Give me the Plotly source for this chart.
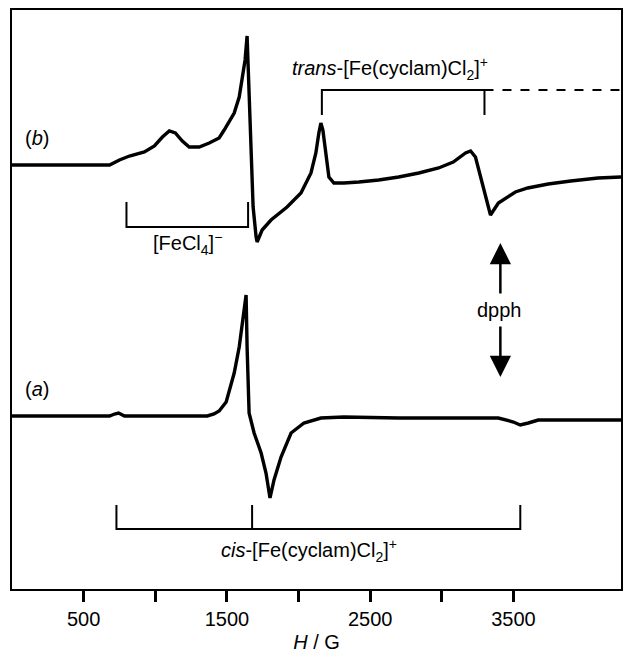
import plotly.graph_objects as go

# Magnetic field H / G and EPR signal intensity (arbitrary units, relative to each baseline)
field_b = [0, 333, 681, 750, 820, 924, 994, 1050, 1098, 1140, 1189, 1237, 1307, 1377, 1446,
           1481, 1551, 1586, 1606, 1627, 1641, 1655, 1669, 1683, 1704, 1711, 1746, 1808, 1920,
           2017, 2087, 2121, 2142, 2156, 2170, 2191, 2212, 2247, 2316, 2421, 2560, 2699, 2840,
           2978, 3080, 3166, 3201, 3235, 3291, 3340, 3395, 3514, 3600, 3743, 3900, 4091, 4251]
signal_b = [0, 0, 0, 5, 9, 13, 19, 28, 34, 32, 24, 18, 18, 22, 27,
            35, 52, 68, 88, 105, 129, 78, 12, -42, -72, -77, -65, -55, -42,
            -28, -8, 12, 32, 42, 35, 12, -12, -18, -18, -17, -15, -12, -8,
            -3, 3, 12, 14, 8, -22, -50, -38, -27, -23, -19, -16, -13, -12]

field_a = [0, 681, 716, 744, 785, 1363, 1410, 1446, 1495, 1551, 1586, 1606, 1634, 1641, 1655,
           1690, 1739, 1773, 1801, 1829, 1878, 1948, 2038, 2156, 2316, 2699, 3395, 3500, 3548,
           3604, 3673, 4251]
signal_a = [0, 0, 2, 3, 0, 0, 2, 5, 14, 43, 69, 93, 121, 69, 3,
            -17, -37, -57, -82, -64, -41, -17, -7, -2, -1, -2, -2, -6, -9,
            -7, -4, -4]

offset_a = 173
offset_b = 424

# assignment brackets (field positions, G)
cis_lines = [729, 1676, 3548]
fecl4_lines = [799, 1648]
trans_lines = [2163, 3298]
dpph_field = 3409

tick_vals = [500, 1000, 1500, 2000, 2500, 3000, 3500]
tick_text = ["500", "", "1500", "", "2500", "", "3500"]

fig = go.Figure()
black = "black"
fig.add_trace(go.Scatter(x=field_b, y=[v + offset_b for v in signal_b], mode="lines",
                         line=dict(color=black, width=3.4), hoverinfo="skip"))
fig.add_trace(go.Scatter(x=field_a, y=[v + offset_a for v in signal_a], mode="lines",
                         line=dict(color=black, width=3.4), hoverinfo="skip"))

# cis bracket (ticks up)
fig.add_trace(go.Scatter(
    x=[cis_lines[0], cis_lines[0], cis_lines[2], cis_lines[2], None, cis_lines[1], cis_lines[1]],
    y=[84, 60, 60, 84, None, 60, 84], mode="lines",
    line=dict(color=black, width=2), hoverinfo="skip"))
# FeCl4 bracket (ticks up)
fig.add_trace(go.Scatter(
    x=[fecl4_lines[0], fecl4_lines[0], fecl4_lines[1], fecl4_lines[1]],
    y=[387, 362, 362, 387], mode="lines",
    line=dict(color=black, width=2), hoverinfo="skip"))
# trans bracket (ticks down)
fig.add_trace(go.Scatter(
    x=[trans_lines[0], trans_lines[0], trans_lines[1], trans_lines[1]],
    y=[474, 499, 499, 474], mode="lines",
    line=dict(color=black, width=2), hoverinfo="skip"))
fig.add_trace(go.Scatter(
    x=[trans_lines[1], 4251], y=[499, 499], mode="lines",
    line=dict(color=black, width=2, dash="dash"), hoverinfo="skip"))

font = dict(family="Liberation Sans, Arial, Helvetica, sans-serif", size=20, color=black)
annots = [
    dict(x=176, y=451, text="(<i>b</i>)"),
    dict(x=176, y=200, text="(<i>a</i>)"),
    dict(x=1224, y=346, text="[FeCl<sub>4</sub>]<sup>−</sup>"),
    dict(x=2637, y=521, text="<i>trans</i>-[Fe(cyclam)Cl<sub>2</sub>]<sup>+</sup>"),
    dict(x=2073, y=39, text="<i>cis</i>-[Fe(cyclam)Cl<sub>2</sub>]<sup>+</sup>"),
    dict(x=dpph_field - 5, y=279, text="dpph"),
]
for a in annots:
    fig.add_annotation(x=a["x"], y=a["y"], text=a["text"], showarrow=False, font=font,
                       xref="x", yref="y")

# dpph arrows
fig.add_annotation(x=dpph_field, y=346, ax=dpph_field, ay=294, xref="x", yref="y",
                   axref="x", ayref="y", text="", showarrow=True, arrowhead=2,
                   arrowsize=1.7, arrowwidth=2.5, arrowcolor=black)
fig.add_annotation(x=dpph_field, y=212, ax=dpph_field, ay=264, xref="x", yref="y",
                   axref="x", ayref="y", text="", showarrow=True, arrowhead=2,
                   arrowsize=1.7, arrowwidth=2.5, arrowcolor=black)

fig.update_layout(
    width=624, height=658,
    margin=dict(l=12, r=1, t=10, b=69),
    paper_bgcolor="white", plot_bgcolor="white",
    showlegend=False,
    font=font,
)
fig.update_xaxes(range=[0, 4251], showline=True, mirror=True, linecolor=black, linewidth=2,
                 showgrid=False, zeroline=False, ticks="outside", ticklen=11, tickwidth=2.5,
                 tickcolor=black, tickvals=tick_vals, ticktext=tick_text,
                 tickfont=dict(family=font["family"], size=20, color=black),
                 title=dict(text="<i>H</i> / G", font=dict(family=font["family"], size=20, color=black),
                            standoff=6))
fig.update_yaxes(range=[0, 579], showline=True, mirror=True, linecolor=black, linewidth=2,
                 showgrid=False, zeroline=False, showticklabels=False, ticks="")

fig.write_html("out.html", post_script="document.body.style.margin='0';",
               config={"displayModeBar": False})
